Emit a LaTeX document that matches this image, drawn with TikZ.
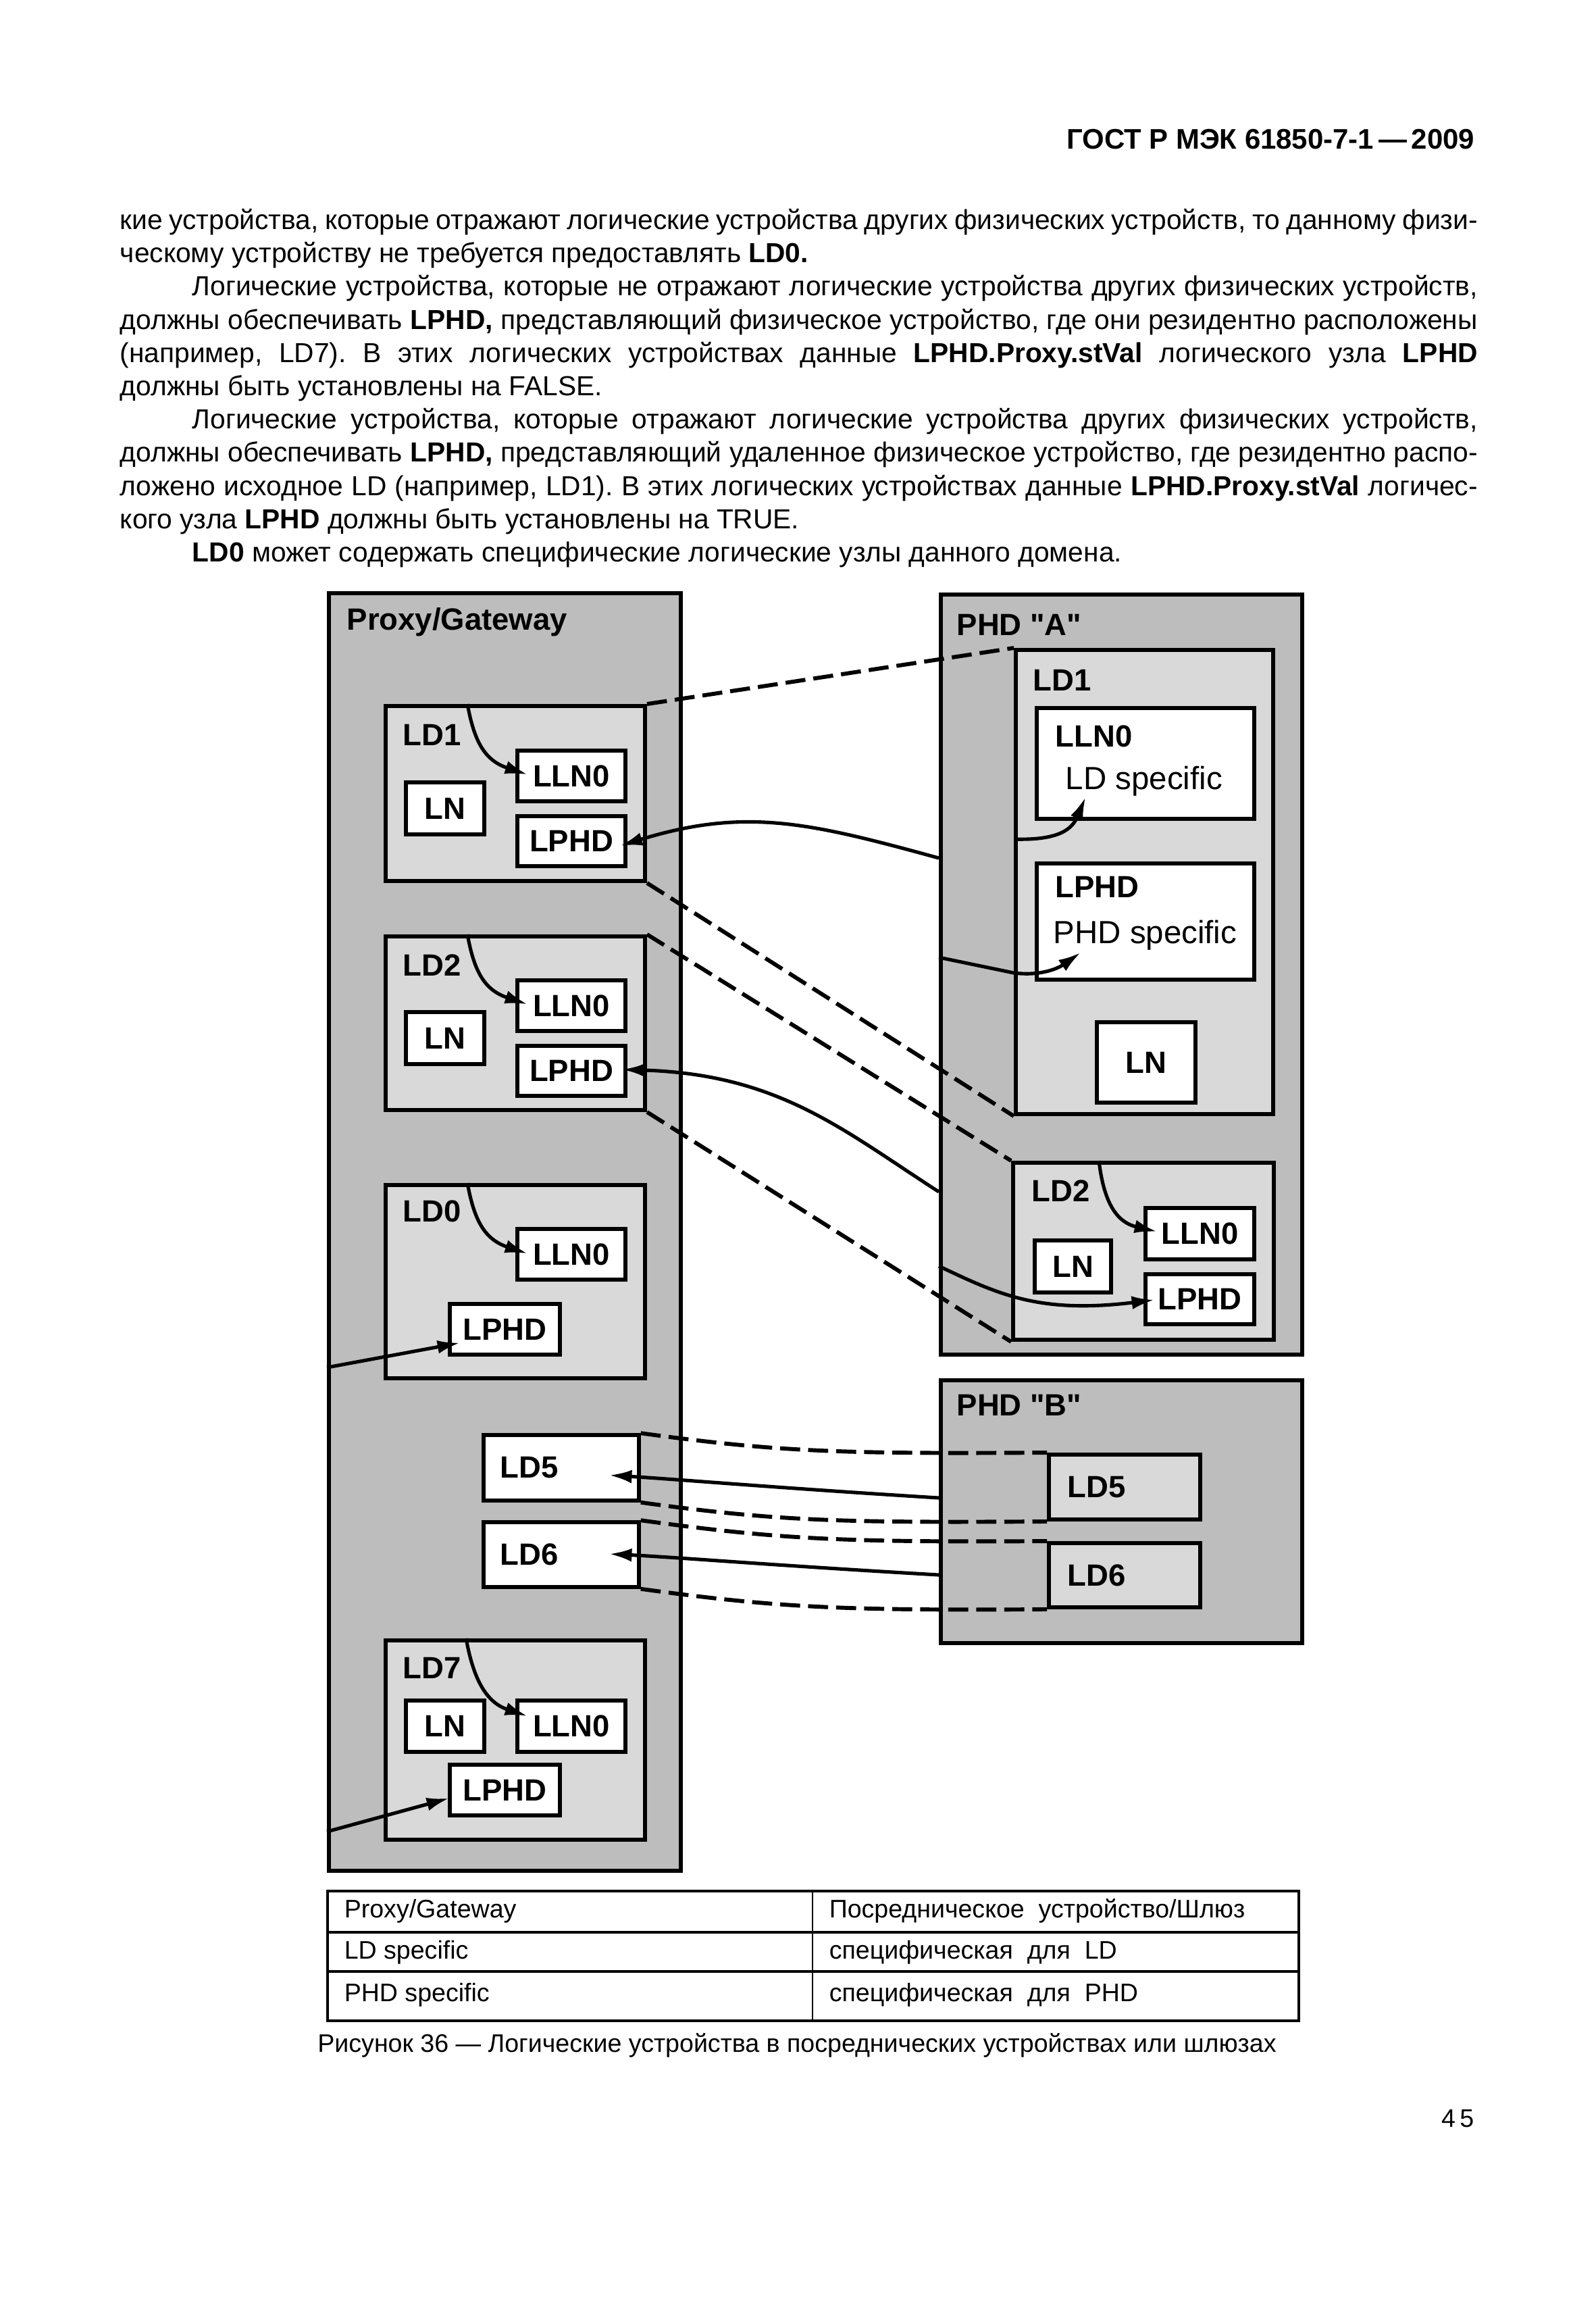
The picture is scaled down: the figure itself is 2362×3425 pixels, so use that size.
\documentclass[tikz,border=0pt]{standalone}
\usepackage{fontspec}
\setmainfont{Liberation Sans}[Ligatures=TeXOff]
\usepackage{tikz}
\usetikzlibrary{calc}
\usetikzlibrary{arrows.meta}
\usetikzlibrary{fit}
\usetikzlibrary{positioning}
\newlength\pxu
\setlength\pxu{0.08891mm}
\definecolor{devgray}{gray}{0.74}
\definecolor{ldgray}{gray}{0.85}
\newcommand\figfont{\fontsize{11.5}{13}\selectfont\bfseries}
\newcommand\bodyfont{\fontsize{10.3}{12}\selectfont}
\newcommand\tabfont{\fontsize{9.5}{11}\selectfont}
\frenchspacing
\tikzset{>={Latex[length=8.5pt,width=5pt]}}
\tikzstyle{dev} = [draw, line width=1.5pt, fill=devgray, inner sep=0]
\tikzstyle{ld} = [draw, line width=1.5pt, fill=ldgray, inner sep=0]
\tikzstyle{ln} = [draw, line width=1.4pt, fill=white, inner sep=0, label distance=0pt]
\tikzstyle{lbl} = [anchor=base west, inner sep=0, font=\figfont]
\tikzstyle{mirror} = [line width=1.5pt, dash pattern=on 7.5pt off 3pt]
\tikzstyle{link} = [->, line width=1.3pt]
\tikzstyle{txt} = [anchor=base west, inner sep=0, font=\bodyfont]
\tikzstyle{cell} = [anchor=base west, inner sep=0, font=\tabfont]
\tikzset{every label/.style={font=\figfont, inner sep=0}}

\begin{document}
\begin{tikzpicture}[x=0.08891mm, y=-0.08891mm]
\useasboundingbox (0,0) rectangle (2362,3425);

% page text
\node [anchor=base east, inner sep=0, font=\fontsize{10.6}{12}\selectfont\bfseries] (head) at (2184,221) {ГОСТ Р МЭК 61850-7-1\,—\,2009};
\node [txt] (p1) at (177,340) {\makebox[2010\pxu][s]{кие устройства, которые отражают логические устройства других физических устройств, то данному физи-}};
\node [txt] (p2) at (177,389) {ческому устройству не требуется предоставлять \textbf{LD0.}};
\node [txt] (p3) at (284,438) {\makebox[1903\pxu][s]{Логические устройства, которые не отражают логические устройства других физических устройств,}};
\node [txt] (p4) at (177,488) {\makebox[2010\pxu][s]{должны обеспечивать \textbf{LPHD,} представляющий физическое устройство, где они резидентно расположены}};
\node [txt] (p5) at (177,537) {\makebox[2010\pxu][s]{(например, LD7). В этих логических устройствах данные \textbf{LPHD.Proxy.stVal} логического узла \textbf{LPHD}}};
\node [txt] (p6) at (177,586) {должны быть установлены на FALSE.};
\node [txt] (p7) at (284,635) {\makebox[1903\pxu][s]{Логические устройства, которые отражают логические устройства других физических устройств,}};
\node [txt] (p8) at (177,684) {\makebox[2010\pxu][s]{должны обеспечивать \textbf{LPHD,} представляющий удаленное физическое устройство, где резидентно распо-}};
\node [txt] (p9) at (177,734) {\makebox[2010\pxu][s]{ложено исходное LD (например, LD1). В этих логических устройствах данные \textbf{LPHD.Proxy.stVal} логичес-}};
\node [txt] (p10) at (177,783) {кого узла \textbf{LPHD} должны быть установлены на TRUE.};
\node [txt] (p11) at (284,832) {\textbf{LD0} может содержать специфические логические узлы данного домена.};

% proxy / gateway
\node [dev, fit={(487,878) (1008,2769)}] (proxy) {};
\node [lbl] (proxyT) at (513,933) {Proxy/Gateway};
\node [ld, fit={(571,1045) (955,1304)}] (pLD1) {};
\node [lbl] (pLD1T) at (596,1103) {LD1};
\node [ln, fit={(601,1158) (717,1235)}, label=center:LN] (pLN1) {};
\node [ln, fit={(766,1111) (926,1186)}, label=center:LLN0] (pLLN1) {};
\node [ln, fit={(766,1208) (926,1282)}, label=center:LPHD] (pLPHD1) {};
\node [ld, fit={(571,1386) (955,1643)}] (pLD2) {};
\node [lbl] (pLD2T) at (596,1444) {LD2};
\node [ln, fit={(601,1498) (717,1575)}, label=center:LN] (pLN2) {};
\node [ln, fit={(766,1451) (926,1526)}, label=center:LLN0] (pLLN2) {};
\node [ln, fit={(766,1548) (926,1622)}, label=center:LPHD] (pLPHD2) {};
\node [ld, fit={(571,1754) (955,2040)}] (pLD0) {};
\node [lbl] (pLD0T) at (596,1808) {LD0};
\node [ln, fit={(766,1819) (926,1894)}, label=center:LLN0] (pLLN0) {};
\node [ln, fit={(666,1930) (829,2005)}, label=center:LPHD] (pLPHD0) {};
\node [ln, fit={(716,2124) (946,2221)}] (pLD5) {};
\node [lbl, anchor=west] (pLD5T) at (740,2172) {LD5};
\node [ln, fit={(716,2253) (946,2349)}] (pLD6) {};
\node [lbl, anchor=west] (pLD6T) at (740,2301) {LD6};
\node [ld, fit={(571,2428) (955,2723)}] (pLD7) {};
\node [lbl] (pLD7T) at (596,2484) {LD7};
\node [ln, fit={(601,2517) (717,2593)}, label=center:LN] (pLN7) {};
\node [ln, fit={(766,2517) (926,2593)}, label=center:LLN0] (pLLN7) {};
\node [ln, fit={(666,2612) (829,2687)}, label=center:LPHD] (pLPHD7) {};

% PHD "A"
\node [dev, fit={(1393,880) (1928,2005)}] (phdA) {};
\node [lbl] (phdAT) at (1416,940) {PHD "A"};
\node [ld, fit={(1504,962) (1885,1649)}] (aLD1) {};
\node [lbl] (aLD1T) at (1529,1022) {LD1};
\node [ln, fit={(1535,1048) (1857,1212)}] (aLLN1) {};
\node [lbl] (aLLN1T) at (1562,1105) {LLN0};
\node [lbl, font=\fontsize{12}{14}\selectfont] (aLLN1S) at (1577,1168) {LD specific};
\node [ln, fit={(1535,1278) (1857,1450)}] (aLPHD1) {};
\node [lbl] (aLPHD1T) at (1562,1328) {LPHD};
\node [lbl, font=\fontsize{12}{14}\selectfont] (aLPHD1S) at (1559,1396) {PHD specific};
\node [ln, fit={(1624,1513) (1770,1632)}, label=center:LN] (aLN1) {};
\node [ld, fit={(1500,1721) (1886,1983)}] (aLD2) {};
\node [lbl] (aLD2T) at (1527,1778) {LD2};
\node [ln, fit={(1532,1836) (1645,1913)}, label=center:LN] (aLN2) {};
\node [ln, fit={(1696,1788) (1857,1864)}, label=center:LLN0] (aLLN2) {};
\node [ln, fit={(1696,1886) (1857,1960)}, label=center:LPHD] (aLPHD2) {};

% PHD "B"
\node [dev, fit={(1393,2043) (1928,2432)}] (phdB) {};
\node [lbl] (phdBT) at (1416,2095) {PHD "B"};
\node [ld, fit={(1553,2153) (1777,2249)}] (bLD5) {};
\node [lbl, anchor=west] (bLD5T) at (1580,2201) {LD5};
\node [ld, fit={(1553,2284) (1777,2379)}] (bLD6) {};
\node [lbl, anchor=west] (bLD6T) at (1580,2332) {LD6};

% mirrored logical devices
\draw [mirror] (pLD1.north east) -- (aLD1.north west);
\draw [mirror] (pLD1.south east) -- (aLD1.south west);
\draw [mirror] (pLD2.north east) -- (aLD2.north west);
\draw [mirror] (pLD2.south east) -- (aLD2.south west);
\draw [mirror] (pLD5.north east) .. controls +(204,28) and +(-303,2) .. (bLD5.north west);
\draw [mirror] (pLD5.south east) .. controls +(204,28) and +(-303,2) .. (bLD5.south west);
\draw [mirror] (pLD6.north east) .. controls +(204,28) and +(-303,2) .. (bLD6.north west);
\draw [mirror] (pLD6.south east) .. controls +(204,28) and +(-303,2) .. (bLD6.south west);

% LLN0 links
\draw [link] ($(pLD1.north west)+(124,0)$) .. controls +(10,55) and +(-64,-21) .. ($(pLLN1.west)+(18,-2)$);
\draw [link] ($(pLD2.north west)+(124,0)$) .. controls +(10,55) and +(-64,-21) .. ($(pLLN2.west)+(18,-2)$);
\draw [link] ($(pLD0.north west)+(124,0)$) .. controls +(10,55) and +(-64,-21) .. ($(pLLN0.west)+(18,-1)$);
\draw [link] ($(pLD7.north west)+(122,0)$) .. controls +(10,55) and +(-64,-21) .. ($(pLLN7.west)+(18,-15)$);
\draw [link] ($(aLD2.north west)+(130,0)$) .. controls +(8,69) and +(-56,-13) .. ($(aLLN2.west)+(20,-3)$);
\draw [link] ($(aLD1.north west)+(0,283)$) .. controls +(66,2) and +(-20,48) .. ($(aLLN1.south west)+(75,-35)$);

% LPHD links
\draw [link] ($(phdA.north west)+(0,393)$) .. controls +(-193,-53) and +(185,-57) .. ($(pLPHD1.east)+(-11,7)$);
\draw [link] ($(phdA.north west)+(0,887)$) .. controls +(-143,-92) and +(232,7) .. ($(pLPHD2.east)+(-8,-2)$);
\draw [link] ($(phdA.north west)+(0,540)$) -- ($(aLD1.north west)+(0,481)$) .. controls +(41,5) and +(-33,23) .. ($(aLPHD1.south west)+(68,-43)$);
\draw [link] ($(phdA.north west)+(0,997)$) .. controls +(87,41) and +(-172,21) .. ($(aLPHD2.west)+(16,1)$);
\draw [link] ($(proxy.north west)+(0,1149)$) -- ($(pLPHD0.west)+(18,20)$);
\draw [link] ($(proxy.north west)+(0,1836)$) -- ($(pLPHD7.west)+(2,12)$);
\draw [link] ($(phdB.north west)+(0,177)$) .. controls +(-243,-15) and +(101,6) .. ($(pLD5.east)+(-47,11)$);
\draw [link] ($(phdB.north west)+(0,291)$) .. controls +(-243,-14) and +(101,5) .. ($(pLD6.east)+(-47,-1)$);

% legend table
\draw [line width=0.9pt] (485,2799) rectangle (1923,2991);
\draw [line width=0.9pt] (485,2860) -- (1923,2860);
\draw [line width=0.9pt] (485,2918) -- (1923,2918);
\draw [line width=0.6pt] (1203,2799) -- (1203,2991);
\node [cell] (c11) at (509,2838) {Proxy/Gateway};
\node [cell] (c12) at (1227,2838) {Посредническое\ \ устройство/Шлюз};
\node [cell] (c21) at (509,2899) {LD specific};
\node [cell] (c22) at (1227,2899) {специфическая\ \ для\ \ LD};
\node [cell] (c31) at (509,2962) {PHD specific};
\node [cell] (c32) at (1227,2962) {специфическая\ \ для\ \ PHD};
\node [anchor=base, inner sep=0, font=\tabfont] (caption) at (1180,3037) {Рисунок 36 — Логические устройства в посреднических устройствах или шлюзах};
\node [anchor=base east, inner sep=0, font=\tabfont] (pageno) at (2183,3148) {4\,5};
\end{tikzpicture}
\end{document}
